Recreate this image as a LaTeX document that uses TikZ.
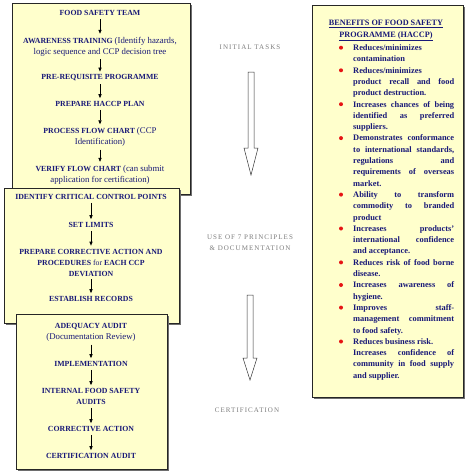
\documentclass[tikz,border=0pt]{standalone}
\usepackage{fontspec}
\setmainfont{Liberation Serif}
\usetikzlibrary{arrows.meta}
\definecolor{navy}{RGB}{25,25,120}
\definecolor{boxfill}{RGB}{255,255,204}
\definecolor{labelgray}{RGB}{125,125,125}
\definecolor{shadowgray}{RGB}{110,110,110}
\definecolor{dotred}{RGB}{230,20,20}
\newcommand{\jl}[1]{\makebox[101pt][s]{#1}}
\newcommand{\rg}[1]{{\mdseries\fontsize{8.8}{11}\selectfont #1}}
\begin{document}
\begin{tikzpicture}[x=1pt,y=-1pt,
  stepnode/.style={inner sep=0pt, text=navy, font=\fontsize{7.8}{11}\selectfont\bfseries, align=center},
  sarrow/.style={-{Triangle[length=4pt,width=3.2pt]}, line width=0.7pt, shorten <=3pt, shorten >=3pt},
  panel/.style={fill=boxfill, draw=black!85, line width=0.7pt},
  panelshadow/.style={fill=shadowgray},
  phase/.style={text=labelgray, font=\fontsize{7}{10.5}\selectfont\addfontfeature{LetterSpace=15}, align=center, inner sep=0pt},
  bigarrow/.style={fill=white, draw=black!80, line width=0.5pt},
  dot/.style={circle, fill=dotred, inner sep=0pt, minimum size=4pt},
  benefit/.style={inner sep=0pt, anchor=base west, text=navy, font=\fontsize{8.4}{11.3}\selectfont\bfseries},
  titlenode/.style={inner sep=0pt, text=navy, font=\fontsize{8.2}{12}\selectfont\bfseries, align=center}
]
\fill[white] (0,0) rectangle (466,474);
\useasboundingbox (0,0) rectangle (466,474);

% ---------- Box 1 : initial tasks
\fill[panelshadow] (14,5) rectangle (192,196);
\draw[panel] (12,3) rectangle (190,194);
\node[stepnode] (n1) at (100,13) {FOOD SAFETY TEAM};
\node[stepnode] (n2) at (100,46.5) {AWARENESS TRAINING \rg{(Identify hazards,}\\\rg{logic sequence and CCP decision tree}};
\node[stepnode] (n3) at (100,78) {PRE-REQUISITE PROGRAMME};
\node[stepnode] (n4) at (100,104) {PREPARE HACCP PLAN};
\node[stepnode] (n5) at (100,137) {PROCESS FLOW CHART \rg{(CCP}\\\rg{Identification)}};
\node[stepnode] (n6) at (100,174.5) {VERIFY FLOW CHART \rg{(can submit}\\\rg{application for certification)}};
\draw[sarrow] (n1) -- (n2);
\draw[sarrow] (n2) -- (n3);
\draw[sarrow] (n3) -- (n4);
\draw[sarrow] (n4) -- (n5);
\draw[sarrow] (n5) -- (n6);

% ---------- Box 2 : principles
\fill[panelshadow] (6,190) rectangle (181,325);
\draw[panel] (4,188) rectangle (179,323);
\node[stepnode] (m1) at (91,197) {IDENTIFY CRITICAL CONTROL POINTS};
\node[stepnode] (m2) at (91,225) {SET LIMITS};
\node[stepnode] (m3) at (91,262.5) {PREPARE CORRECTIVE ACTION AND\\PROCEDURES {\mdseries for} EACH CCP\\DEVIATION};
\node[stepnode] (m4) at (91,299) {ESTABLISH RECORDS};
\draw[sarrow] (m1) -- (m2);
\draw[sarrow] (m2) -- (m3);
\draw[sarrow] (m3) -- (m4);

% ---------- Box 3 : certification
\fill[panelshadow] (18,316) rectangle (169,471);
\draw[panel] (16,314) rectangle (167,469);
\node[stepnode] (k1) at (91,332.5) {ADEQUACY AUDIT\\\rg{(Documentation Review)}};
\node[stepnode] (k2) at (91,364) {IMPLEMENTATION};
\node[stepnode] (k3) at (91,396.5) {INTERNAL FOOD SAFETY\\AUDITS};
\node[stepnode] (k4) at (91,429) {CORRECTIVE ACTION};
\node[stepnode] (k5) at (91,456) {CERTIFICATION AUDIT};
\draw[sarrow] (k1) -- (k2);
\draw[sarrow] (k2) -- (k3);
\draw[sarrow] (k3) -- (k4);
\draw[sarrow] (k4) -- (k5);

% ---------- Middle phase labels and hollow arrows
\node[phase] (p1) at (250,47) {INITIAL TASKS};
\node[phase] (p2) at (250,242.5) {USE OF 7 PRINCIPLES\\\& DOCUMENTATION};
\node[phase] (p3) at (247,410) {CERTIFICATION};
\draw[bigarrow] (248,72) -- (254,72) -- (254,148) -- (258,148) -- (251,175) -- (244,148) -- (248,148) -- cycle;
\draw[bigarrow] (247,295) -- (253,295) -- (253,358) -- (257,358) -- (250,380) -- (243,358) -- (247,358) -- cycle;

% ---------- Right box : benefits
\fill[panelshadow] (314,7) rectangle (465,399);
\draw[panel] (312,5) rectangle (463,397);
\node[titlenode] (title) at (386,30.5) {\underline{BENEFITS OF FOOD SAFETY}\\\underline{PROGRAMME (HACCP)}};

\node[dot] (d1) at (341,47.7) {};
\node[benefit] (t1) at (353,50.5) {\parbox[t]{101pt}{Reduces/minimizes\\contamination}};
\node[dot] (d2) at (341,70.3) {};
\node[benefit] (t2) at (353,73.1) {\parbox[t]{101pt}{Reduces/minimizes\\\jl{product recall and food}\\product destruction.}};
\node[dot] (d3) at (341,104.2) {};
\node[benefit] (t3) at (353,107.0) {\parbox[t]{101pt}{\jl{Increases chances of being}\\\jl{identified as preferred}\\suppliers.}};
\node[dot] (d4) at (341,138.1) {};
\node[benefit] (t4) at (353,140.9) {\parbox[t]{101pt}{\jl{Demonstrates conformance}\\\jl{to international standards,}\\\jl{regulations and}\\\jl{requirements of overseas}\\market.}};
\node[dot] (d5) at (341,194.6) {};
\node[benefit] (t5) at (353,197.4) {\parbox[t]{101pt}{\jl{Ability to transform}\\\jl{commodity to branded}\\product}};
\node[dot] (d6) at (341,228.5) {};
\node[benefit] (t6) at (353,231.3) {\parbox[t]{101pt}{\jl{Increases products'}\\\jl{international confidence}\\and acceptance.}};
\node[dot] (d7) at (341,262.4) {};
\node[benefit] (t7) at (353,265.2) {\parbox[t]{101pt}{\jl{Reduces risk of food borne}\\disease.}};
\node[dot] (d8) at (341,285.0) {};
\node[benefit] (t8) at (353,287.8) {\parbox[t]{101pt}{\jl{Increases awareness of}\\hygiene.}};
\node[dot] (d9) at (341,307.6) {};
\node[benefit] (t9) at (353,310.4) {\parbox[t]{101pt}{\jl{Improves staff-}\\\jl{management commitment}\\to food safety.}};
\node[dot] (d10) at (341,341.5) {};
\node[benefit] (t10) at (353,344.3) {\parbox[t]{101pt}{Reduces business risk.}};
\node[benefit] (t11) at (353,355.6) {\parbox[t]{101pt}{\jl{Increases confidence of}\\\jl{community in food supply}\\and supplier.}};
\end{tikzpicture}
\end{document}
